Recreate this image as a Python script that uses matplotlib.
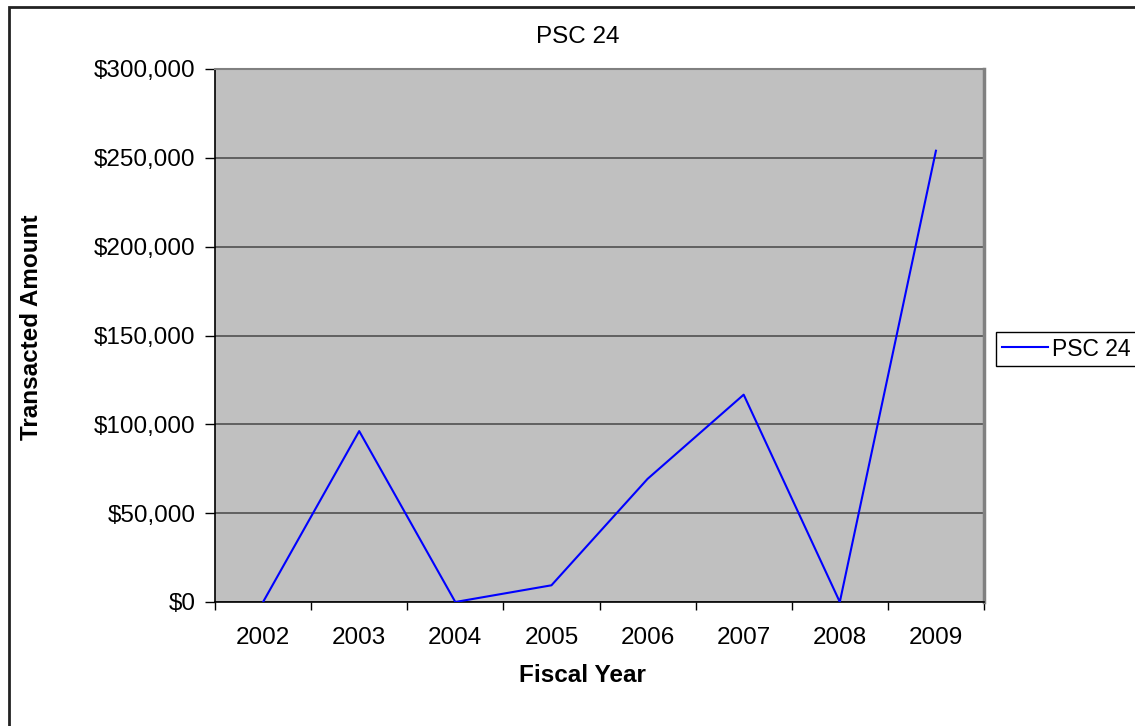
import matplotlib.pyplot as plt
from matplotlib.patches import Rectangle
from matplotlib.ticker import FuncFormatter, MultipleLocator

plt.rcParams['font.family'] = ['Liberation Sans', 'DejaVu Sans']

# Data
years = ['2002', '2003', '2004', '2005', '2006', '2007', '2008', '2009']
amounts = [0, 96200, 0, 9400, 69300, 116700, 0, 254000]
series_name = 'PSC 24'

fig = plt.figure(figsize=(11.35, 7.26), dpi=100)
ax = fig.add_axes([215 / 1135, 1 - 602 / 726, 769 / 1135, 533 / 726])

x = list(range(len(years)))
ax.plot(x, amounts, color='#0000FF', linewidth=1.5, label=series_name, zorder=3)

# Plot area look
ax.set_facecolor('#C0C0C0')
ax.set_xlim(-0.5, len(years) - 0.5)
ax.set_ylim(0, 300000)
ax.yaxis.set_major_locator(MultipleLocator(50000))
ax.yaxis.set_major_formatter(FuncFormatter(lambda v, p: f'${v:,.0f}'))
ax.grid(axis='y', color='#505050', linewidth=1.2, zorder=1)
ax.set_axisbelow(True)

ax.set_xticks(x)
ax.set_xticklabels(years)
ax.set_xticks([i - 0.5 for i in range(len(years) + 1)], minor=True)
ax.tick_params(axis='x', which='major', length=0, pad=18, labelsize=17.5)
ax.tick_params(axis='x', which='minor', length=6, width=1, direction='out', color='black')
ax.tick_params(axis='y', length=7, width=1, direction='out', pad=7, labelsize=17.5)

for side in ['left', 'bottom']:
    ax.spines[side].set_color('black')
    ax.spines[side].set_linewidth(1.2)
ax.spines['top'].set_color('#808080')
ax.spines['top'].set_linewidth(1.5)
ax.spines['right'].set_color('#808080')
ax.spines['right'].set_linewidth(2.5)

# Titles and labels
fig.text(578 / 1135, 1 - 37 / 726, 'PSC 24', ha='center', va='center', fontsize=17.5)
fig.text(582 / 1135, 1 - 676 / 726, 'Fiscal Year', ha='center', va='center',
         fontsize=17.5, fontweight='bold')
fig.text(32 / 1135, 1 - 327 / 726, 'Transacted Amount', ha='center', va='center',
         fontsize=17.5, fontweight='bold', rotation=90)

# Legend
fig.legend(loc='center left', bbox_to_anchor=(996 / 1135, 1 - 349 / 726),
           fontsize=16.5, frameon=True, fancybox=False, edgecolor='black',
           framealpha=1, borderaxespad=0, borderpad=0.25, handlelength=2.0,
           handletextpad=0.2)

# Chart area frame (left and top edges visible)
fig.patches.append(Rectangle((9 / 1135, -0.1), 1.2, 1.1 - 7 / 726,
                             transform=fig.transFigure, fill=False,
                             edgecolor='#222222', linewidth=2))

fig.savefig('out.png', dpi=100)
